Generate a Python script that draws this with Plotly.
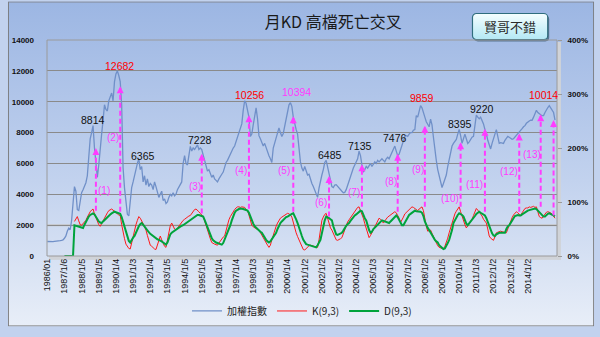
import base64
import plotly.graph_objects as go

# ---------------- data ----------------
tick_labels = ["1986/01", "1987/1/6", "1988/1/5", "1989/1/5", "1990/1/4", "1991/1/3",
               "1992/1/4", "1993/1/5", "1994/1/5", "1995/1/5", "1996/1/4", "1997/1/4",
               "1998/1/3", "1999/1/5", "2000/1/4", "2001/1/2", "2002/1/2", "2003/1/2",
               "2004/1/2", "2005/1/3", "2006/1/2", "2007/1/2", "2008/1/2", "2009/1/5",
               "2010/1/4", "2011/1/3", "2012/1/2", "2013/1/2", "2014/1/2"]
left_ticks = [0, 2000, 4000, 6000, 8000, 10000, 12000, 14000]
right_ticks = [0, 100, 200, 300, 400]

index_rows = [
    [940, 930, 935, 925, 930, 945, 945, 950, 970, 990, 1010, 1040],            # 1986
    [1150, 1300, 1600, 1800, 1700, 2300, 3400, 4500, 4200, 3000, 2950, 3600],  # 1987
    [4100, 4300, 4500, 4750, 5200, 6600, 7600, 8000, 8450, 7000, 5800, 5100],  # 1988
    [5900, 7100, 7900, 8800, 9800, 9500, 9400, 10060, 10300, 10560, 10060, 11300],  # 1989
    [11800, 12000, 11700, 11300, 9800, 5700, 4400, 3600, 2700, 2600, 3500, 4440],   # 1990
    [4800, 5250, 5600, 6000, 6300, 5600, 5800, 4800, 5200, 4600, 5000, 4500],  # 1991
    [4700, 4600, 4300, 4800, 4500, 4200, 3800, 4000, 4200, 3600, 3700, 3400],  # 1992
    [3500, 3800, 4000, 3900, 4100, 3900, 4000, 4300, 4500, 4700, 4800, 6000],  # 1993
    [6500, 6000, 5900, 6500, 7100, 6800, 7000, 6900, 7100, 7200, 6900, 7000],  # 1994
    [6900, 6500, 6200, 5800, 5500, 5600, 5300, 5100, 5250, 5000, 4900, 4800],  # 1995
    [5000, 5200, 5300, 5440, 5800, 6060, 6200, 6400, 6700, 6900, 7000, 7125],  # 1996
    [7400, 7700, 7940, 8200, 8560, 9440, 10060, 9900, 9400, 9000, 7750, 7900],  # 1997
    [8500, 9000, 9600, 8900, 7800, 7600, 7400, 7125, 7300, 7000, 6700, 6500],  # 1998
    [6300, 6060, 7000, 7300, 7560, 7900, 8300, 8000, 7750, 7940, 8400, 9000],  # 1999
    [9400, 9800, 9940, 9700, 9000, 8500, 8200, 7900, 7000, 6100, 5700, 5500],  # 2000
    [5800, 5500, 5250, 5300, 4900, 4700, 4500, 4300, 4100, 3800, 4400, 4900],  # 2001
    [5250, 5600, 6060, 6200, 5800, 5250, 4900, 4500, 4440, 4600, 4625, 4500],  # 2002
    [4400, 4300, 4200, 4100, 4125, 4300, 4600, 4800, 5100, 5400, 5700, 5900],  # 2003
    [6100, 6300, 6800, 6500, 5900, 5440, 5600, 5800, 5700, 5900, 6000, 5800],  # 2004
    [6000, 6100, 6000, 6200, 6100, 6200, 6300, 6200, 6100, 6300, 6400, 6300],  # 2005
    [6500, 6700, 6900, 7125, 6800, 6500, 6600, 6900, 7200, 7500, 7750, 7800],  # 2006
    [7750, 7900, 8000, 8000, 8150, 8200, 9100, 9000, 9500, 9750, 9600, 9200],  # 2007
    [9000, 8700, 8500, 8375, 8875, 8500, 7700, 6700, 6200, 5600, 5250, 4800],  # 2008
    [4440, 4700, 5000, 5250, 5800, 6300, 6800, 7125, 7300, 7400, 7560, 7900],  # 2009
    [8200, 7800, 7300, 7600, 7900, 7600, 7300, 7400, 7600, 7700, 7750, 8300],  # 2010
    [9125, 9000, 8900, 9000, 8800, 8560, 8200, 7940, 7500, 7200, 6940, 7300],  # 2011
    [7700, 7900, 8190, 7700, 7300, 7350, 7300, 7300, 7500, 7600, 7750, 7700],  # 2012
    [7650, 7560, 7600, 7700, 7800, 7940, 8050, 8150, 8250, 8375, 8450, 8600],  # 2013
    [8700, 8750, 8800, 8800, 9000, 9200, 9440, 9300, 9200, 9150, 9100, 9100],  # 2014
    [9300, 9500, 9625, 9750, 9600, 9400, 9300, 8800],                          # 2015
]

N = None
k_rows = [
    [N] * 12,
    [N, N, N, N, N, N, N, 64, 70, 73, 65, 58],
    [57, 60, 63, 66, 72, 78, 82, 85, 87, 78, 70, 66],
    [58, 55, 60, 66, 72, 76, 80, 84, 86, 87, 85, 82],
    [80, 78, 76, 75, 58, 43, 32, 22, 17, 14, 13, 25],
    [38, 48, 58, 66, 73, 70, 66, 60, 54, 48, 38, 28],
    [20, 18, 15, 13, 12, 20, 28, 37, 30, 22, 18, 16],
    [30, 45, 56, 61, 55, 50, 48, 52, 56, 60, 63, 66],
    [68, 70, 73, 74, 75, 79, 83, 86, 87, 85, 82, 79],
    [75, 73, 65, 56, 48, 40, 32, 25, 23, 22, 21, 20],
    [24, 28, 32, 35, 37, 48, 58, 67, 73, 78, 82, 86],
    [89, 91, 91, 90, 91, 91, 90, 86, 84, 76, 65, 57],
    [54, 52, 50, 49, 48, 43, 38, 33, 30, 25, 20, 16],
    [20, 30, 40, 48, 55, 61, 66, 70, 72, 74, 76, 78],
    [79, 78, 76, 72, 62, 50, 43, 36, 30, 25, 18, 12],
    [11, 14, 17, 19, 20, 19, 18, 17, 16, 16, 30, 48],
    [66, 72, 77, 79, 70, 60, 52, 48, 42, 35, 30, 29],
    [30, 32, 34, 42, 50, 58, 63, 67, 71, 75, 79, 83],
    [87, 90, 91, 85, 78, 70, 60, 50, 40, 34, 38, 43],
    [48, 54, 60, 65, 70, 68, 64, 61, 65, 69, 72, 74],
    [76, 78, 80, 82, 80, 76, 70, 62, 66, 72, 78, 81],
    [84, 87, 89, 91, 90, 88, 86, 84, 87, 90, 91, 84],
    [66, 55, 46, 47, 48, 42, 36, 29, 24, 19, 16, 15],
    [14, 13, 18, 25, 33, 43, 52, 62, 73, 78, 83, 88],
    [91, 82, 73, 66, 58, 52, 56, 60, 64, 68, 75, 82],
    [88, 85, 82, 79, 74, 68, 64, 61, 50, 37, 33, 30],
    [29, 36, 43, 44, 45, 46, 45, 44, 43, 43, 50, 58],
    [66, 71, 76, 80, 82, 80, 77, 75, 80, 85, 88, 89],
    [89, 91, 90, 91, 92, 90, 91, 82, 73, 71, 70, 74],
    [78, 81, 82, 81, 80, 77, 73, 70],
]

d_rows = [
    [N] * 12,
    [0, 0, 0, 0, 0, 0, 0, 57, 56, 55, 55, 54],
    [53, 52, 58, 64, 70, 73, 76, 78, 79, 77, 72, 67],
    [64, 62, 61, 64, 67, 70, 73, 75, 77, 79, 81, 82],
    [81, 80, 79, 78, 72, 63, 55, 45, 36, 28, 25, 30],
    [34, 37, 44, 50, 55, 59, 61, 58, 54, 50, 48, 44],
    [41, 39, 36, 34, 32, 31, 30, 29, 27, 25, 23, 21],
    [25, 33, 40, 43, 45, 47, 48, 50, 52, 54, 56, 57],
    [59, 61, 63, 65, 66, 68, 71, 73, 75, 76, 76, 75],
    [74, 73, 67, 60, 52, 45, 38, 33, 29, 26, 25, 24],
    [23, 22, 21, 24, 30, 37, 43, 48, 57, 66, 74, 80],
    [84, 86, 87, 88, 88, 87, 86, 85, 84, 80, 72, 65],
    [60, 55, 52, 49, 47, 45, 43, 38, 34, 30, 27, 25],
    [27, 31, 35, 37, 43, 50, 56, 61, 64, 67, 70, 72],
    [73, 75, 77, 78, 79, 74, 68, 61, 52, 44, 37, 30],
    [26, 22, 21, 20, 19, 18, 17, 16, 16, 20, 25, 30],
    [42, 56, 66, 73, 72, 70, 68, 66, 55, 47, 40, 39],
    [40, 41, 43, 47, 52, 56, 59, 61, 65, 69, 72, 75],
    [77, 80, 82, 84, 83, 76, 70, 66, 55, 48, 43, 45],
    [50, 53, 55, 57, 60, 63, 66, 65, 64, 62, 61, 61],
    [64, 67, 70, 73, 75, 72, 66, 60, 57, 57, 62, 67],
    [73, 76, 78, 80, 82, 84, 83, 83, 82, 82, 80, 74],
    [64, 56, 52, 48, 43, 39, 34, 30, 27, 25, 20, 17],
    [15, 13, 14, 18, 24, 30, 38, 48, 61, 67, 72, 76],
    [79, 78, 76, 73, 66, 60, 57, 60, 63, 66, 70, 74],
    [78, 80, 82, 80, 78, 77, 75, 70, 63, 55, 47, 42],
    [38, 37, 40, 42, 43, 43, 43, 43, 43, 50, 55, 57],
    [62, 66, 70, 74, 75, 76, 75, 75, 77, 79, 81, 82],
    [84, 85, 86, 87, 88, 88, 87, 84, 80, 78, 75, 73],
    [73, 76, 78, 79, 78, 76, 75, 74],
]

index_vals = [v for r in index_rows for v in r]
k_vals = [v for r in k_rows for v in r]
d_vals = [v for r in d_rows for v in r]
months = list(range(len(index_vals)))
tickvals = [12 * j for j in range(len(tick_labels))]

# peak labels
peak_text = ["8814", "12682", "6365", "7228", "10256", "10394", "6485",
             "7135", "7476", "9859", "8395", "9220", "10014"]
peak_x = [32, 50.4, 66.7, 107, 141.2, 174, 197.9, 219, 243, 262, 288.8, 303.8, 346.8]
peak_y = [8810, 12310, 6500, 7500, 10440, 10625, 6560, 7125, 7625, 10250, 8560, 9560, 10440]
peak_kind = ["k", "r", "k", "k", "r", "m", "k", "k", "k", "r", "k", "k", "r"]

# death-cross markers
cross_idx = [34, 51, 108, 141, 172, 197, 220, 245, 264, 289, 306, 330, 345, 354]
cross_bottom = [2940, 2870, 2750, 3060, 2870, 2560, 3190, 2870, 3190, 3190, 2870, 2870, 3190, 2620]
cross_top = [7000, 11000, 6625, 9125, 9060, 5190, 5940, 6625, 8440, 7375, 8250, 7940, 9190, 8810]
num_x = [39.5, 46.2, 103.6, 135.7, 165.8, 191.7, 214.3, 240.2, 259.4, 281.9, 299, 322.9, 338.6, 360.5]
num_y = [4250, 7690, 4500, 5560, 5560, 3440, 4125, 4810, 5625, 3750, 4625, 5500, 6560, 7310]

# ---------------- styling ----------------
MAG = "#ff3cff"
W, H = 600, 337
L, R, T, B = 40, 38, 40, 73
PW, PH = W - L - R, H - T - B
FONT = "Liberation Sans, Arial, Noto Sans CJK TC"
CJK = "Noto Sans CJK TC, Noto Sans CJK SC, sans-serif"

fig = go.Figure()
fig.add_trace(go.Scatter(x=months, y=index_vals, name="加權指數", mode="lines",
                         line=dict(color="#7090c8", width=1.3), yaxis="y"))
fig.add_trace(go.Scatter(x=months, y=k_vals, name="K(9,3)", mode="lines",
                         line=dict(color="#ff1a1a", width=1), yaxis="y2"))
fig.add_trace(go.Scatter(x=months, y=d_vals, name="D(9,3)", mode="lines",
                         line=dict(color="#00a33c", width=2), yaxis="y2"))

shapes = []
# light reference line at 2000
shapes.append(dict(type="line", xref="paper", x0=0, x1=1, yref="y", y0=2000, y1=2000,
                   line=dict(color="#c4c4c4", width=2), layer="between"))
# plot border
shapes.append(dict(type="rect", xref="paper", yref="paper", x0=0, x1=1, y0=0, y1=1,
                   line=dict(color="#9a9a9a", width=1), layer="above"))
for xi, yb, yt in zip(cross_idx, cross_bottom, cross_top):
    shapes.append(dict(type="line", xref="x", yref="y", x0=xi, x1=xi, y0=yb, y1=yt - 300,
                       line=dict(color=MAG, width=2, dash="5px,3px"), layer="above"))

annotations = []
for xi, yt in zip(cross_idx, cross_top):
    annotations.append(dict(x=xi, y=yt, xref="x", yref="y", text="", showarrow=True,
                            ax=0, ay=7, arrowhead=2, arrowsize=0.7, arrowwidth=2,
                            arrowcolor=MAG))
for j, (nx, ny) in enumerate(zip(num_x, num_y)):
    annotations.append(dict(x=nx, y=ny, xref="x", yref="y", text="(%d)" % (j + 1),
                            showarrow=False, xanchor="center", yanchor="middle",
                            font=dict(family=FONT, size=10, color=MAG)))
col = {"k": "#111111", "r": "#ff0000", "m": MAG}
for t, px, py, kd in zip(peak_text, peak_x, peak_y, peak_kind):
    annotations.append(dict(x=px, y=py, xref="x", yref="y", text=t, showarrow=False,
                            xanchor="center", yanchor="middle",
                            font=dict(family=FONT, size=10.5, color=col[kd])))
# button text
annotations.append(dict(x=(514 - L) / PW, y=(264 - 25.5) / PH, xref="paper", yref="paper",
                        text="賢哥不錯", showarrow=False, xanchor="center", yanchor="middle",
                        font=dict(family=CJK, size=13, color="#2a2a2a")))

bg_svg = (
    '<svg xmlns="http://www.w3.org/2000/svg" width="600" height="337" viewBox="0 0 600 337" '
    'preserveAspectRatio="none">'
    '<defs><linearGradient id="g" x1="0" y1="0" x2="0" y2="1">'
    '<stop offset="0" stop-color="#9cb6e3"/><stop offset="0.55" stop-color="#c2d2ee"/>'
    '<stop offset="1" stop-color="#e8eef8"/></linearGradient></defs>'
    '<rect x="0" y="0" width="600" height="337" fill="url(#g)"/>'
    '<rect x="562" y="42" width="4" height="226" fill="#d0d3d8"/>'
    '<rect x="42" y="264" width="524" height="4" fill="#d0d3d8"/>'
    '<rect x="0.5" y="0.5" width="599" height="336" fill="none" stroke="#7a7a7a"/>'
    '</svg>')
btn_svg = (
    '<svg xmlns="http://www.w3.org/2000/svg" width="83" height="33" viewBox="0 0 83 33" '
    'preserveAspectRatio="none">'
    '<defs><linearGradient id="b" x1="0" y1="0" x2="0" y2="1">'
    '<stop offset="0" stop-color="#f5feff"/><stop offset="1" stop-color="#b4e8f4"/>'
    '</linearGradient></defs>'
    '<rect x="4" y="4.5" width="77" height="27" rx="4" fill="#1c3a48" opacity="0.55"/>'
    '<rect x="2.5" y="2.5" width="77" height="27" rx="4" fill="url(#b)" '
    'stroke="#2f6d7e" stroke-width="1.2"/></svg>')


def uri(s):
    return "data:image/svg+xml;base64," + base64.b64encode(s.encode()).decode()


images = [
    dict(source=uri(bg_svg), xref="paper", yref="paper", x=-L / PW, y=1 + T / PH,
         sizex=W / PW, sizey=H / PH, xanchor="left", yanchor="top", sizing="stretch",
         layer="below"),
    dict(source=uri(btn_svg), xref="paper", yref="paper", x=(473 - L) / PW, y=(264 - 10) / PH,
         sizex=83 / PW, sizey=33 / PH, xanchor="left", yanchor="top", sizing="stretch",
         layer="below"),
]

fig.update_layout(
    width=W, height=H,
    margin=dict(l=L, r=R, t=T, b=B),
    paper_bgcolor="#c2d2ee",
    plot_bgcolor="#ffffff",
    images=images,
    shapes=shapes,
    annotations=annotations,
    title=dict(text="月KD 高檔死亡交叉", x=(333 - L) / PW, xref="paper", xanchor="center",
               y=1 - 22 / H, yref="container", yanchor="middle",
               font=dict(family=CJK, size=16, color="#1a1a1a")),
    xaxis=dict(range=[-0.2, 356.4], tickmode="array", tickvals=tickvals, ticktext=tick_labels,
               tickangle=-90, tickfont=dict(family=FONT, size=9, color="#111111"),
               showgrid=False, zeroline=False, showline=False, ticks=""),
    yaxis=dict(range=[0, 14000], tickmode="array", tickvals=left_ticks,
               ticktext=[str(v) for v in left_ticks],
               tickfont=dict(family=FONT, size=8, color="#111111", weight="bold"),
               gridcolor="#8a8a8a", gridwidth=1, zeroline=False, showline=False,
               ticks="", ticklabelstandoff=12),
    yaxis2=dict(range=[0, 400], overlaying="y", side="right", tickmode="array",
                tickvals=right_ticks, ticktext=["%d%%" % v for v in right_ticks],
                tickfont=dict(family=FONT, size=8, color="#111111", weight="bold"),
                showgrid=False, zeroline=False, showline=False,
                ticks="outside", ticklen=4, tickcolor="#9a9a9a", ticklabelstandoff=4),
    legend=dict(orientation="h", x=0.5, xanchor="center", y=(264 - 321) / PH,
                yanchor="middle", font=dict(family=CJK, size=10, color="#222222"),
                bgcolor="rgba(0,0,0,0)", itemwidth=30),
    showlegend=True,
    hovermode=False,
)

fig.write_html("out.html")
